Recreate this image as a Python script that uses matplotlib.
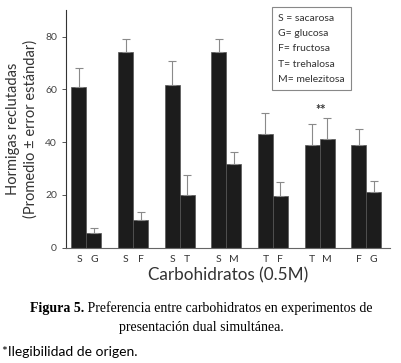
import numpy as np
import matplotlib.pyplot as plt

# pares de carbohidratos (izquierda, derecha)
izq = ["S", "S", "S", "S", "T", "T", "F"]
der = ["G", "F", "T", "M", "F", "M", "G"]
val_izq = [61.0, 74.0, 61.7, 74.0, 43.1, 38.9, 38.7]
val_der = [5.5, 10.5, 20.0, 31.7, 19.4, 41.2, 20.9]
err_izq = [6.9, 5.2, 9.0, 5.0, 8.0, 7.8, 6.4]
err_der = [1.9, 3.0, 7.6, 4.4, 5.5, 8.0, 4.2]

leyenda = ["S = sacarosa", "G= glucosa", "F= fructosa", "T= trehalosa", "M= melezitosa"]

sans = ["Lato", "DejaVu Sans"]
serif = ["Liberation Serif", "DejaVu Serif"]

fig = plt.figure(figsize=(4.02, 3.63), dpi=100)
ax = fig.add_axes([0.164, 0.318, 0.806, 0.654])

centros = 1.37 + 3.107 * np.arange(len(izq))
xi = centros - 0.5
xd = centros + 0.5

color_barra = "#1c1c1c"
ekw = dict(ecolor="#8a8a8a", elinewidth=0.8, capsize=3, capthick=0.8)
ax.bar(xi, val_izq, width=1.0, color=color_barra, edgecolor="#555555", linewidth=0.5,
       yerr=[np.zeros(len(err_izq)), err_izq], error_kw=ekw)
ax.bar(xd, val_der, width=1.0, color=color_barra, edgecolor="#555555", linewidth=0.5,
       yerr=[np.zeros(len(err_der)), err_der], error_kw=ekw)

ax.text(xd[5] - 0.45, val_der[5] + err_der[5] + 0.6, "**", ha="center", va="bottom",
        fontsize=9, fontweight="bold", color="#333333", family=sans)

ax.set_xlim(0, 21.6)
ax.set_ylim(0, 90)
ax.set_yticks([0, 20, 40, 60, 80])
ax.set_xticks(np.concatenate([xi, xd]))
ax.set_xticklabels(izq + der, fontsize=7.5, color="#333333", family=sans)
ax.tick_params(axis="x", length=0, pad=5)
ax.tick_params(axis="y", length=3, width=0.7, labelsize=7.5, labelcolor="#444444", color="#555555")
for lab in ax.get_yticklabels():
    lab.set_family(sans)

ax.spines["top"].set_visible(False)
ax.spines["right"].set_visible(False)
ax.spines["left"].set_color("#333333")
ax.spines["bottom"].set_color("#666666")

ax.set_xlabel("Carbohidratos (0.5M)", fontsize=12.3, color="#333333", family=sans,
              labelpad=3)
ax.set_ylabel("Hormigas reclutadas\n(Promedio ± error estándar)", fontsize=10.5,
              color="#333333", family=sans, linespacing=1.3, labelpad=5)

ax.text(0.655, 0.985, "\n".join(leyenda), transform=ax.transAxes, fontsize=7.5,
        color="#333333", family=sans, va="top", ha="left", linespacing=1.9,
        bbox=dict(boxstyle="square,pad=0.6", facecolor="white", edgecolor="#888888",
                  linewidth=0.8))

# pie de figura: "Figura 5." en negrita seguido del texto normal
fig.canvas.draw()
ren = fig.canvas.get_renderer()
t1 = fig.text(0, 0.14, "Figura 5.", ha="left", fontsize=10, fontweight="bold", family=serif)
t2 = fig.text(0, 0.14, " Preferencia entre carbohidratos en experimentos de", ha="left",
              fontsize=10, family=serif)
w1 = t1.get_window_extent(ren).width
w2 = t2.get_window_extent(ren).width
W = fig.get_figwidth() * fig.dpi
x0 = (W - w1 - w2) / 2 / W
t1.set_x(x0)
t2.set_x(x0 + w1 / W)
fig.text(0.5, 0.088, "presentación dual simultánea.", ha="center", fontsize=10, family=serif)
fig.text(0.005, 0.02, "*Ilegibilidad de origen.", ha="left", fontsize=10, family=sans)

fig.savefig("out.png", dpi=100)
